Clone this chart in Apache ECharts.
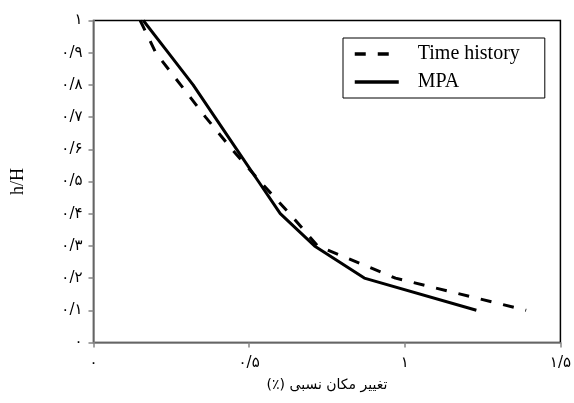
<!DOCTYPE html>
<html><head><meta charset="utf-8">
<script src="https://cdn.jsdelivr.net/npm/echarts@6/dist/echarts.min.js"></script>
<style>html,body{margin:0;padding:0;background:#fff}#c{width:574px;height:403px}</style>
</head><body><div id="c"></div>
<script>
const levels = [1.0, 0.9, 0.8, 0.7, 0.6, 0.5, 0.4, 0.3, 0.2, 0.1];
const timeHistoryX = [0.15, 0.20, 0.28, 0.36, 0.445, 0.535, 0.63, 0.72, 0.97, 1.39];
const mpaX = [0.16, 0.24, 0.32, 0.39, 0.46, 0.53, 0.60, 0.71, 0.87, 1.23];
const seriesNames = ['Time history', 'MPA'];
const xAxisName = 'تغییر مکان نسبی (٪)';
const yAxisName = 'h/H';

const fa = '۰۱۲۳۴۵۶۷۸۹';
function toFa(v) {
  const s = String(Math.round(v * 10) / 10).replace('.', '/');
  return s.replace(/[0-9]/g, d => fa[+d]);
}
const pair = (xs, ys) => xs.map((x, i) => [x, ys[i]]);

const chart = echarts.init(document.getElementById('c'), null, {renderer: 'canvas'});
const axisGray = '#868686';
chart.setOption({
  animation: false,
  backgroundColor: '#fff',
  grid: {left: 93.5, right: 7.5, top: 20.5, bottom: 60.5, show: true, borderColor: '#000', borderWidth: 1.5, backgroundColor: 'transparent'},
  legend: {
    orient: 'vertical', left: 343, top: 38,
    data: seriesNames,
    itemWidth: 44, itemHeight: 14, itemGap: 8,
    padding: [6, 25, 6, 10],
    borderColor: '#000', borderWidth: 1, borderRadius: 0,
    textStyle: {fontFamily: 'Liberation Serif', fontSize: 20, color: '#000', padding: [0, 0, 0, 14]},
    lineStyle: {width: 3.5},
    itemStyle: {opacity: 0}
  },
  xAxis: {
    type: 'value', min: 0, max: 1.5, interval: 0.5,
    name: '\u200F' + xAxisName + '\u200F', nameLocation: 'middle', nameGap: 36,
    nameTextStyle: {fontFamily: 'DejaVu Sans', fontSize: 14, color: '#000'},
    axisLine: {show: true, onZero: false, lineStyle: {color: axisGray, width: 1.5}},
    axisTick: {show: true, length: 5, lineStyle: {color: axisGray, width: 1.5}},
    axisLabel: {formatter: toFa, margin: 13, fontFamily: 'DejaVu Sans', fontSize: 15, color: '#000'},
    splitLine: {show: false}
  },
  yAxis: {
    type: 'value', min: 0, max: 1, interval: 0.1,
    name: yAxisName, nameLocation: 'middle', nameGap: 66, nameRotate: 90,
    nameTextStyle: {fontFamily: 'Liberation Serif', fontSize: 18, color: '#000'},
    axisLine: {show: true, onZero: false, lineStyle: {color: axisGray, width: 1.5}},
    axisTick: {show: true, length: 5, lineStyle: {color: axisGray, width: 1.5}},
    axisLabel: {formatter: toFa, margin: 11, fontFamily: 'DejaVu Sans', fontSize: 15, color: '#000'},
    splitLine: {show: false}
  },
  series: [
    {name: seriesNames[0], type: 'line', data: pair(timeHistoryX, levels), symbol: 'none',
     lineStyle: {color: '#000', width: 3, type: [11, 12]}, itemStyle: {color: '#000'}},
    {name: seriesNames[1], type: 'line', data: pair(mpaX, levels), symbol: 'none',
     lineStyle: {color: '#000', width: 3, type: 'solid'}, itemStyle: {color: '#000'}}
  ]
});
</script></body></html>
